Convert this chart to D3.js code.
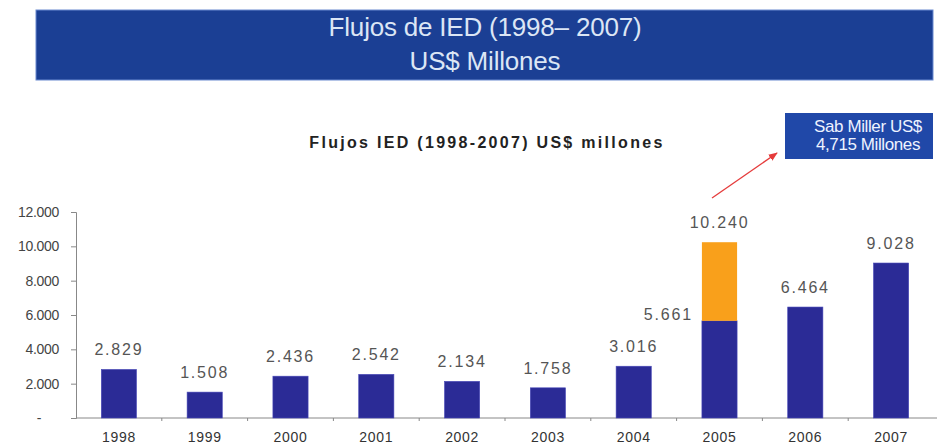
<!DOCTYPE html>
<html><head><meta charset="utf-8">
<script src="https://cdn.jsdelivr.net/npm/d3@7"></script>
<style>body{margin:0;background:#fff;}svg{display:block;font-family:Arial,"Liberation Sans",sans-serif;}</style>
</head><body><svg id="c" width="944" height="447"></svg>
<script>
const years = ["1998","1999","2000","2001","2002","2003","2004","2005","2006","2007"];
const baseValues = [2829,1508,2436,2542,2134,1758,3016,5661,6464,9028];
const totalValues = [2829,1508,2436,2542,2134,1758,3016,10240,6464,9028];
const yTicks = [0,2000,4000,6000,8000,10000,12000];
const bannerLines = ["Flujos de IED (1998\u2013 2007)","US$ Millones"];
const chartTitle = "Flujos IED (1998-2007) US$ millones";
const noteLines = ["Sab Miller US$","4,715 Millones"];

const svg = d3.select("#c");
const fmt = v => v === 0 ? "-" : d3.format(",")(v).replace(/,/g,".");

// banner
svg.append("rect").attr("x",36).attr("y",10).attr("width",897).attr("height",70)
  .attr("fill","#1B3F94").attr("stroke","#6A8AD0").attr("stroke-width",1);
svg.append("text").attr("x",485).attr("y",36).attr("text-anchor","middle")
  .attr("font-size",26).attr("fill","#DCE6F5").attr("letter-spacing",-0.2).text(bannerLines[0]);
svg.append("text").attr("x",485).attr("y",70).attr("text-anchor","middle")
  .attr("font-size",26).attr("fill","#DCE6F5").attr("letter-spacing",-0.2).text(bannerLines[1]);

// chart title
svg.append("text").attr("x",487).attr("y",148).attr("text-anchor","middle")
  .attr("font-size",16).attr("font-weight","bold").attr("letter-spacing",2.3).attr("fill","#222").text(chartTitle);

const x = d3.scaleBand().domain(years).range([76,934]).paddingInner(0.59).paddingOuter(0.295);
const y = d3.scaleLinear().domain([0,12000]).range([418,212]);

// y axis
const ya = svg.append("g").attr("transform","translate(76,0)")
  .call(d3.axisLeft(y).tickValues(yTicks).tickSize(5).tickPadding(12).tickFormat(fmt));
ya.select(".domain").attr("stroke","#888");
ya.selectAll(".tick line").attr("stroke","#888");
ya.selectAll(".tick text").attr("font-size",14).attr("fill","#444").attr("font-family","Arial, 'Liberation Sans', sans-serif").attr("letter-spacing",-0.3);
ya.selectAll(".tick text").filter(d=>d===0).attr("dx",-18);

// x axis
const xa = svg.append("g").attr("transform","translate(0,418)")
  .call(d3.axisBottom(x).tickSize(0).tickPadding(14));
xa.select(".domain").attr("stroke","#888").attr("d","M76,0H937");
xa.selectAll(".tick text").attr("font-size",14).attr("fill","#333").attr("font-family","Arial, 'Liberation Sans', sans-serif").attr("letter-spacing",0.7);
// small separator ticks between categories
svg.append("g").selectAll("line").data(years.slice(1)).join("line")
  .attr("x1",d=>x(d)-x.step()*x.paddingInner()/2).attr("x2",d=>x(d)-x.step()*x.paddingInner()/2)
  .attr("y1",418).attr("y2",421).attr("stroke","#888");

// bars
svg.append("g").selectAll("rect.base").data(years).join("rect")
  .attr("x",d=>x(d)).attr("width",x.bandwidth())
  .attr("y",(d,i)=>y(baseValues[i])).attr("height",(d,i)=>y(0)-y(baseValues[i]))
  .attr("fill","#2B2B96").attr("stroke","#4848B8").attr("stroke-width",0.6);
svg.append("g").selectAll("rect.extra").data(years.filter((d,i)=>totalValues[i]>baseValues[i])).join("rect")
  .attr("x",d=>x(d)).attr("width",x.bandwidth())
  .attr("y",d=>y(totalValues[years.indexOf(d)])).attr("height",d=>{const i=years.indexOf(d);return y(baseValues[i])-y(totalValues[i]);})
  .attr("fill","#F9A01B");

// value labels
svg.append("g").selectAll("text").data(years).join("text")
  .attr("x",d=>x(d)+x.bandwidth()/2)
  .attr("y",(d,i)=>y(totalValues[i])-14)
  .attr("text-anchor","middle").attr("font-size",16).attr("letter-spacing",1.8).attr("fill","#555")
  .text((d,i)=>fmt(totalValues[i]));
// base label for stacked bar
svg.append("g").selectAll("text").data(years.filter((d,i)=>totalValues[i]>baseValues[i])).join("text")
  .attr("x",d=>x(d)-9).attr("y",d=>y(baseValues[years.indexOf(d)])-1)
  .attr("text-anchor","end").attr("font-size",16).attr("letter-spacing",1.8).attr("fill","#555")
  .text(d=>fmt(baseValues[years.indexOf(d)]));

// annotation
svg.append("defs").append("marker").attr("id","ah").attr("viewBox","0 0 10 10").attr("refX",9).attr("refY",5)
  .attr("markerWidth",7).attr("markerHeight",7).attr("orient","auto")
  .append("path").attr("d","M0,1L10,5L0,9Z").attr("fill","#E53B3B");
svg.append("line").attr("x1",712).attr("y1",198).attr("x2",777).attr("y2",153)
  .attr("stroke","#E53B3B").attr("stroke-width",1.3).attr("marker-end","url(#ah)");
svg.append("rect").attr("x",785).attr("y",113).attr("width",148).attr("height",46).attr("fill","#2048A8");
noteLines.forEach((t,i)=>svg.append("text").attr("x",868).attr("y",132+i*18).attr("text-anchor","middle")
  .attr("font-size",17).attr("letter-spacing",-0.4).attr("fill","#EEF3FF").text(t));
</script></body></html>
